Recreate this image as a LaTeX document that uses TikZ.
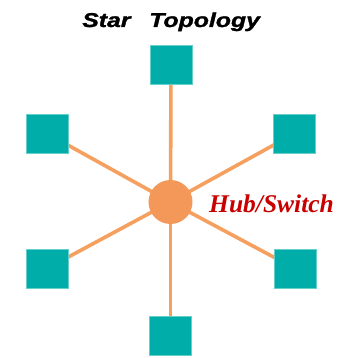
\documentclass[tikz,border=0pt]{standalone}
\usepackage{fontspec}
\usetikzlibrary{backgrounds}
\setmainfont{Liberation Serif}
\setsansfont{Liberation Sans}
\newfontfamily\titlefont{Liberation Sans}[BoldItalicFeatures={FakeBold=1.3}]
\definecolor{nodeteal}{HTML}{00ADA8}
\definecolor{linkorange}{HTML}{F5A05E}
\definecolor{hubfill}{HTML}{F4985A}
\definecolor{labelred}{HTML}{C80000}
\begin{document}
\begin{tikzpicture}[x=1pt,y=-1pt,
  station/.style={fill=nodeteal,draw=nodeteal!60,line width=0.4pt,minimum width=42pt,minimum height=39pt,inner sep=0pt},
  hub/.style={circle,fill=hubfill,minimum size=44pt,inner sep=0pt},
  link/.style={draw=linkorange,line width=3.6pt},
  titletext/.style={font=\titlefont\bfseries\itshape\fontsize{20}{22}\selectfont,anchor=base west,inner sep=0pt,xscale=1.24,transform shape}]
\useasboundingbox (0,0) rectangle (354,358);
% hub and the six stations around it
\node[hub] (hub) at (170.5,202) {};
\node[station] (top) at (171,65) {};
\node[station] (ul) at (47,133.5) {};
\node[station] (ur) at (294.5,133.5) {};
\node[station] (ll) at (47,268.5) {};
\node[station] (lr) at (295,268.5) {};
\node[station] (bot) at (170.5,335.5) {};
% links run under the boxes and the hub
\begin{scope}[on background layer]
  \foreach \s in {top,ul,ur,ll,lr,bot} \path[link] (hub.center) -- (\s.center);
\end{scope}
% labels
\node[titletext] (t1) at (82,27) {Star};
\node[titletext] (t2) at (149,27) {Topology};
\node[font=\bfseries\itshape\fontsize{25.5}{27}\selectfont,text=labelred,anchor=base west,inner sep=0pt] (lbl) at (209,212) {Hub/Switch};
\end{tikzpicture}
\end{document}
